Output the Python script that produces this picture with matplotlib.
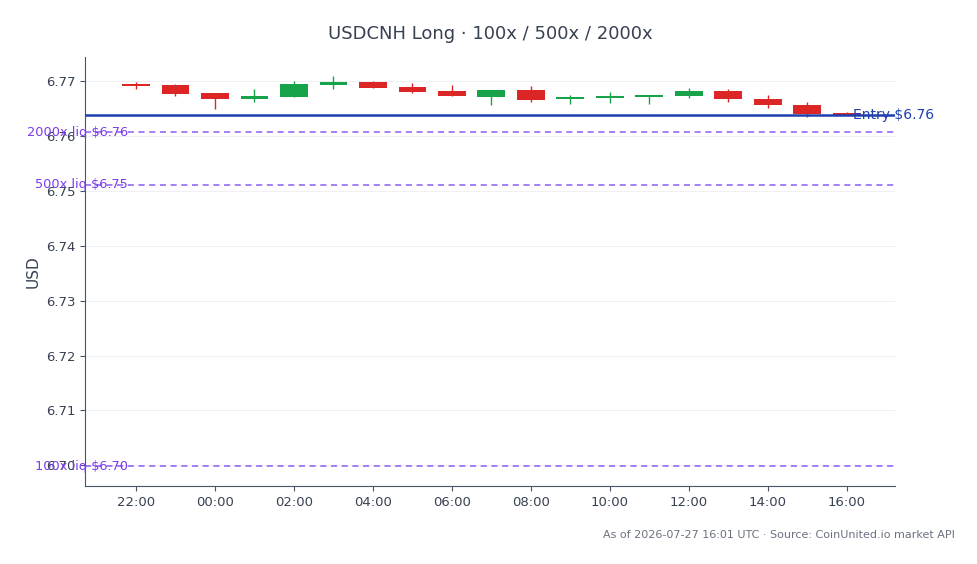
import matplotlib
matplotlib.use("Agg")
import matplotlib.pyplot as plt
import matplotlib.dates as mdates
from datetime import datetime, timedelta

# hourly candles, 2026-07-26 22:00 -> 2026-07-27 16:00 UTC
start = datetime(2026, 7, 26, 22, 0)
times = [start + timedelta(hours=i) for i in range(19)]

opens = [6.76945, 6.7693, 6.7678, 6.7668, 6.7671, 6.7693, 6.7698, 6.7690, 6.7682, 6.7671,
         6.7684, 6.7667, 6.7670, 6.7671, 6.7673, 6.7682, 6.7668, 6.7657, 6.7642]
highs = [6.7698, 6.7695, 6.7678, 6.7685, 6.7700, 6.7709, 6.7700, 6.7696, 6.7693, 6.7684,
         6.7691, 6.7675, 6.7681, 6.7675, 6.7687, 6.7685, 6.7674, 6.7662, 6.7643]
lows = [6.7685, 6.7673, 6.7650, 6.7662, 6.7671, 6.7685, 6.7688, 6.7678, 6.7672, 6.7657,
        6.7662, 6.7659, 6.7661, 6.7659, 6.7669, 6.7662, 6.7651, 6.7635, 6.7638]
closes = [6.7692, 6.7677, 6.7668, 6.7673, 6.7694, 6.7698, 6.7688, 6.7681, 6.7672, 6.7684,
          6.7666, 6.7671, 6.7673, 6.7675, 6.7682, 6.7668, 6.7656, 6.7640, 6.7639]

entry_price = 6.7638
liq_levels = {"100x": 6.6998, "500x": 6.7511, "2000x": 6.7607}

UP = "#16a34a"
DOWN = "#dc2626"
TEXT = "#374151"

fig, ax = plt.subplots(figsize=(9.78, 5.64), dpi=100)
fig.subplots_adjust(left=0.0869, right=0.915, top=0.899, bottom=0.138)

width = 0.7 / 24
for t, o, h, l, c in zip(times, opens, highs, lows, closes):
    col = UP if c >= o else DOWN
    x = mdates.date2num(t)
    ax.vlines(x, l, h, color=col, linewidth=1, zorder=3)
    bottom = min(o, c)
    height = max(abs(c - o), 0.00003)
    ax.bar(x, height, width=width, bottom=bottom, color=col, zorder=4)

# entry line
ax.axhline(entry_price, color="#1e40af", linewidth=1.8, zorder=5)
x_last = mdates.date2num(times[-1])
ax.text(x_last + 0.15 / 24, entry_price, f"Entry ${entry_price:.2f}", color="#1e40af",
        fontsize=10, ha="left", va="center", zorder=6)

# liquidation levels
x_first = mdates.date2num(times[0])
for name, lvl in liq_levels.items():
    ax.axhline(lvl, color="#8b5cf6", linestyle=(0, (4, 3)), linewidth=1.1, zorder=2)
    ax.text(x_first - 0.2 / 24, lvl, f"{name} liq ${lvl:.2f}", color="#7c3aed",
            fontsize=9.3, ha="right", va="center", zorder=6)

ax.set_xlim(x_first - 1.29 / 24, x_first + 19.22 / 24)
ax.set_ylim(6.6962, 6.7744)

ax.xaxis.set_major_locator(mdates.HourLocator(byhour=range(0, 24, 2)))
ax.xaxis.set_major_formatter(mdates.DateFormatter("%H:%M"))
ax.set_yticks([6.70, 6.71, 6.72, 6.73, 6.74, 6.75, 6.76, 6.77])
ax.yaxis.set_major_formatter(plt.FormatStrFormatter("%.2f"))

ax.grid(True, axis="y", color="#eef0f3", linewidth=0.8, zorder=0)
ax.set_axisbelow(True)
for s in ["top", "right"]:
    ax.spines[s].set_visible(False)
for s in ["left", "bottom"]:
    ax.spines[s].set_color("#475569")
ax.tick_params(colors=TEXT, labelsize=9.5)
ax.tick_params(axis="both", color="#475569")

ax.set_ylabel("USD", fontsize=11, color=TEXT)
ax.set_title("USDCNH Long · 100x / 500x / 2000x", fontsize=13, color=TEXT, pad=13)

fig.text(0.976, 0.052, "As of 2026-07-27 16:01 UTC · Source: CoinUnited.io market API",
         ha="right", va="center", fontsize=8, color="#6b7280")

fig.savefig("out.png", dpi=100)
